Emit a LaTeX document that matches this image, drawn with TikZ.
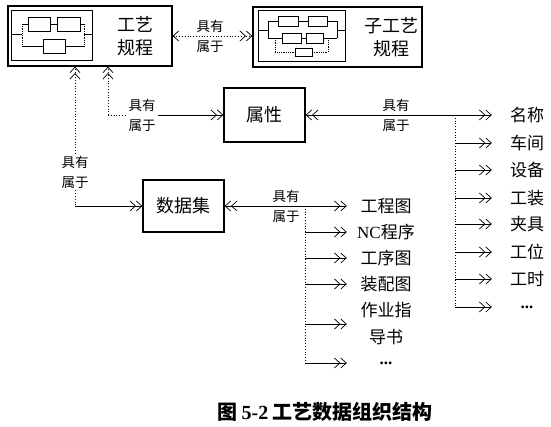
\documentclass[tikz,border=0pt]{standalone}
\usepackage{fontspec}
\setmainfont{Liberation Serif}
\newfontfamily\cjk{Noto Sans CJK SC}
\usetikzlibrary{arrows.meta}
\begin{document}
\begin{tikzpicture}[x=1pt,y=-1pt,
  >={Straight Barb[length=5.5pt,width=10pt,line width=0.7pt]},
  bigbox/.style={draw,line width=1.3pt,inner sep=0pt},
  box/.style={draw,line width=1.3pt,inner sep=0pt,font=\fontsize{18}{23}\selectfont\cjk,minimum width=81pt},
  ttl/.style={font=\fontsize{18}{23}\selectfont\cjk,align=center,inner sep=0pt},
  lbl/.style={font=\fontsize{13.5}{20}\selectfont\cjk,align=center,inner sep=2pt},
  itemr/.style={font=\fontsize{17}{27}\selectfont\cjk,align=center,inner sep=0pt,minimum width=40pt},
  iteml/.style={font=\fontsize{17}{27}\selectfont\cjk,align=center,inner sep=0pt,minimum width=64pt},
  dot/.style={dotted,line width=0.8pt},
  conn/.style={line width=0.8pt},
  sch/.style={line width=0.8pt},
  schd/.style={densely dotted,line width=0.8pt},
  inframe/.style={line width=1pt}
]
\useasboundingbox (0,0) rectangle (551,427);
\fill[white] (0,0) rectangle (551,427);

% process box
\node[bigbox,minimum width=164pt,minimum height=60pt] (gy) at (90,36) {};
\node[ttl] (gyt) at (135,36) {工艺\\规程};
\draw[inframe] (11,11) rectangle (92,61);
\draw[sch] (11,34) -- (22,34);
\draw[schd] (22,24) -- (22,46);
\draw[sch] (22,24) -- (28,24);
\draw[sch] (28,17) rectangle (50,31);
\draw[sch] (50,24) -- (57,24);
\draw[sch] (57,17) rectangle (80,31);
\draw[sch] (80,24) -- (84,24);
\draw[schd] (84,24) -- (84,46);
\draw[sch] (84,34) -- (92,34);
\draw[sch] (22,46) -- (43,46);
\draw[sch] (43,39) rectangle (65,53);
\draw[sch] (65,46) -- (84,46);

% sub-process box
\node[bigbox,minimum width=169pt,minimum height=60pt] (zgy) at (337.5,37) {};
\node[ttl] (zgyt) at (391,37) {子工艺\\规程};
\draw[inframe] (258,11) rectangle (345,62);
\draw[sch] (258,30) -- (268,30);
\draw[sch] (268,21) -- (268,38);
\draw[sch] (268,21) -- (278,21);
\draw[sch] (278,16) rectangle (298,26);
\draw[sch] (298,21) -- (308,21);
\draw[sch] (308,16) rectangle (327,26);
\draw[sch] (327,21) -- (337,21) -- (337,38);
\draw[sch] (337,30) -- (345,30);
\draw[sch] (268,38) -- (282,38);
\draw[sch] (282,33) rectangle (301,43);
\draw[sch] (301,38) -- (306,38);
\draw[sch] (306,33) rectangle (323,43);
\draw[sch] (323,38) -- (337,38);
\draw[schd] (275,38) -- (275,52) -- (295,52);
\draw[sch] (295,48) rectangle (312,56);
\draw[schd] (312,52) -- (328,52) -- (328,38);

% link process - subprocess
\node[lbl] (L1) at (210,36) {具有\\属于};
\draw[dot,<->>] (gy.east) -- (zgy.west |- gy.east);

% attribute box
\node[box,minimum height=54pt] (sx) at (264.5,115) {属性};
\node[lbl] (L2) at (142,115) {具有\\属于};
\coordinate (c2) at (108,115);
\draw[dot,->>] (c2) -- (c2 |- gy.south);
\draw[dot] (c2) -- (L2.west |- c2);
\draw[conn,->>] (L2.east |- c2) -- (sx.west);

% data set box
\node[box,minimum height=52pt] (sjj) at (183.5,206) {数据集};
\node[lbl] (L4) at (75,172) {具有\\属于};
\draw[dot,->>] (L4.north) -- (L4.north |- gy.south);
\coordinate (c4) at (75,206);
\draw[dot] (L4.south) -- (c4);
\draw[conn,->>] (c4) -- (sjj.west);

% attribute list
\node[lbl] (L3) at (396,115) {具有\\属于};
\node[itemr] (n1) at (527,115) {名称};
\node[itemr] (n2) at (527,143) {车间};
\node[itemr] (n3) at (527,170) {设备};
\node[itemr] (n4) at (527,198) {工装};
\node[itemr] (n5) at (527,224) {夹具};
\node[itemr] (n6) at (527,252) {工位};
\node[itemr] (n7) at (527,279) {工时};
\node[itemr] (n8) at (527,307) {\rmfamily\bfseries ...};
\draw[conn,<<->>] (sx.east) -- ([xshift=-15pt]n1.west);
\coordinate (v1) at (455,115);
\draw[dot] (v1) -- (v1 |- n8);
\foreach \n in {n2,n3,n4,n5,n6,n7,n8}
  \draw[conn,->>] (v1 |- \n) -- ([xshift=-15pt]\n.west);

% data list
\node[lbl] (L5) at (286,206) {具有\\属于};
\node[iteml] (m1) at (386,206) {工程图};
\node[iteml] (m2) at (386,232) {{\rmfamily NC}程序};
\node[iteml] (m3) at (386,258) {工序图};
\node[iteml] (m4) at (386,284) {装配图};
\node[iteml] (m5) at (386,324) {作业指\\导书};
\node[iteml] (m6) at (386,363) {\rmfamily\bfseries ...};
\draw[conn,<<->>] (sjj.east) -- ([xshift=-7pt]m1.west);
\coordinate (v2) at (305,206);
\draw[dot] (v2) -- (v2 |- m6);
\foreach \n in {m2,m3,m4,m5,m6}
  \draw[conn,->>] (v2 |- \n) -- ([xshift=-7pt]\n.west);

% caption
\node[font=\fontsize{20}{24}\selectfont\cjk\bfseries,inner sep=0pt] (cap) at (325,412) {图 {\rmfamily 5-2} 工艺数据组织结构};
\end{tikzpicture}
\end{document}
